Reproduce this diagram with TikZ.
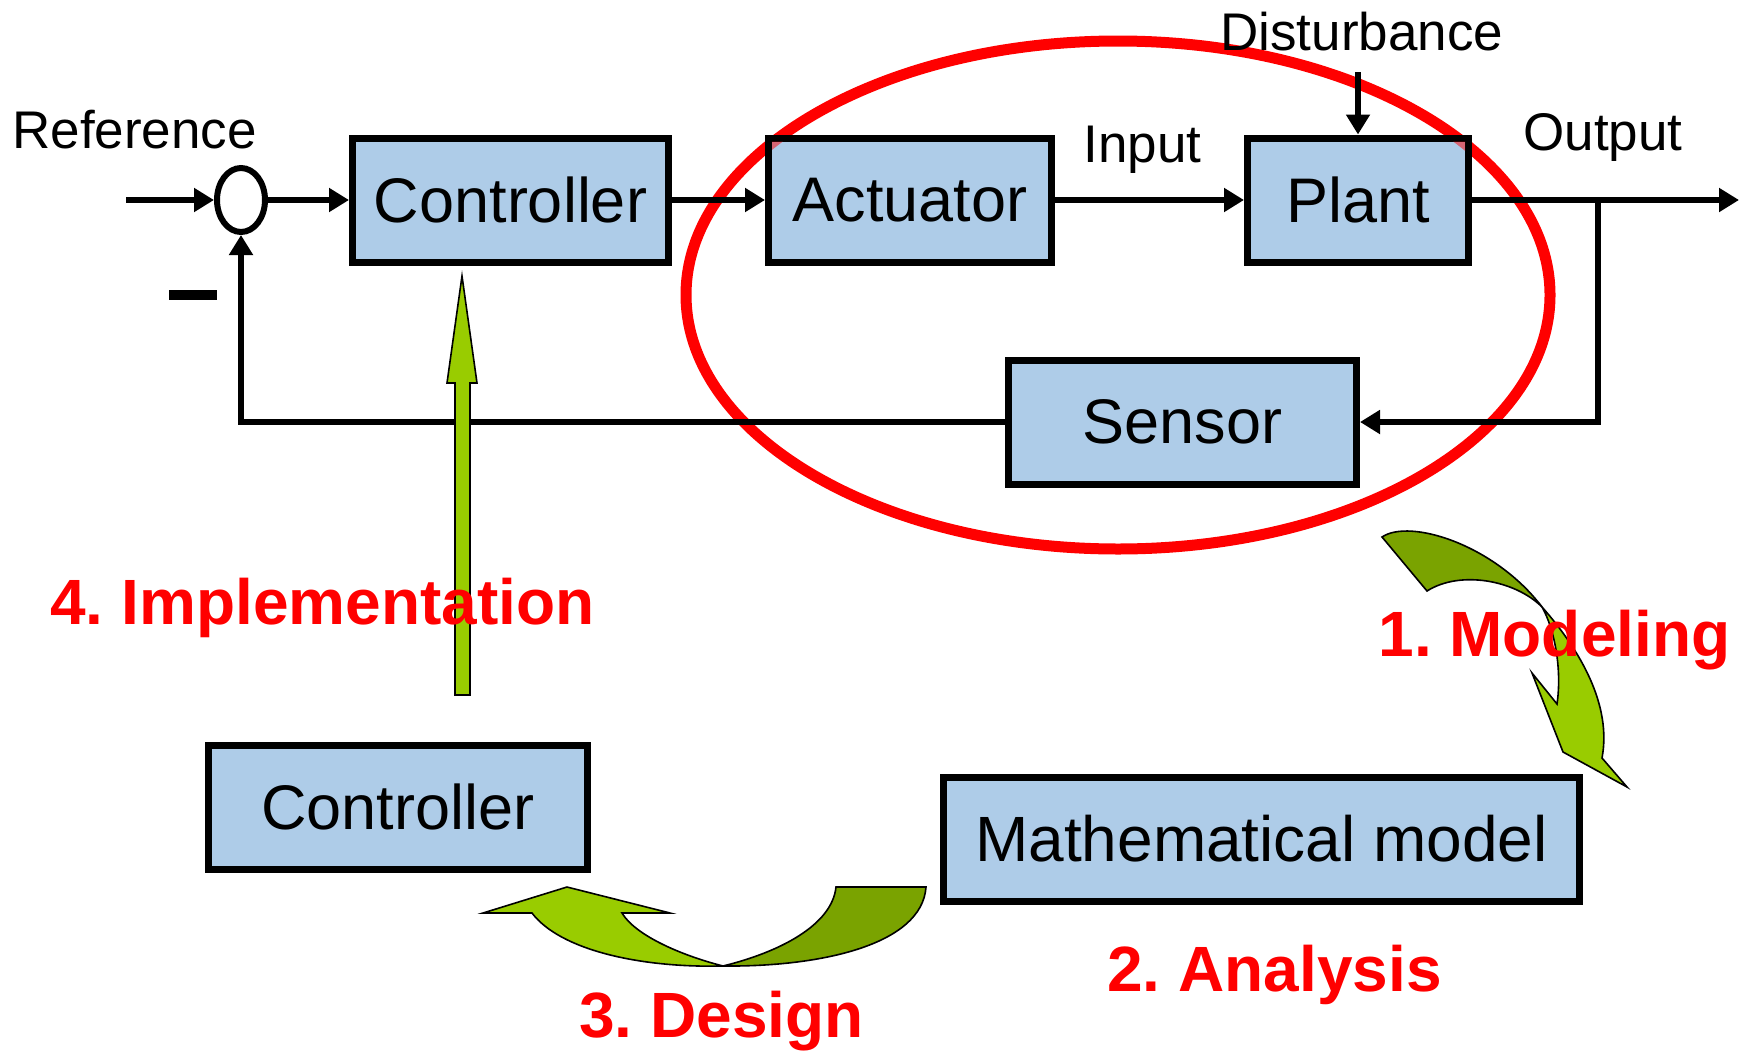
\documentclass[tikz,border=0pt]{standalone}
\usepackage{fontspec}
\setmainfont{Liberation Sans}
\usetikzlibrary{arrows.meta,calc,shapes.geometric}
\definecolor{boxblue}{RGB}{174,204,232}
\definecolor{lgreen}{RGB}{153,204,0}
\definecolor{dgreen}{RGB}{122,163,0}
\definecolor{myred}{RGB}{255,0,0}
\frenchspacing
\begin{document}
\begin{tikzpicture}[x=0.5pt,y=-0.5pt,
  blk/.style={draw=black,line width=3.5pt,fill=boxblue,minimum height=62pt,inner sep=0pt,font=\fontsize{31.5}{36}\selectfont},
  lbl/.style={font=\fontsize{26.5}{30}\selectfont,inner sep=0pt,anchor=base west},
  wire/.style={line width=3pt},
  arr/.style={wire,-{Triangle[length=10pt,width=11.5pt]}},
  stage/.style={font=\bfseries\fontsize{32}{36}\selectfont,text=myred,inner sep=0pt,anchor=base west},
  ribbon/.style={draw=black,line width=0.8pt,line join=miter}]
\useasboundingbox (0,0) rectangle (1739,1050);

% red ellipse (behind the boxes)
\draw[myred,line width=5.5pt] (1118,295) ellipse [x radius=432,y radius=254];

% blocks
\node[blk,minimum width=158pt] (ctrl) at (510.5,200) {Controller};
\node[blk,minimum width=141.5pt] (act) at (910,200) {Actuator};
\node[blk,minimum width=110.5pt] (plant) at (1358,200) {Plant};
\node[blk,minimum width=174pt] (sensor) at (1182.5,422) {Sensor};
\node[blk,minimum width=189.5pt] (ctrl2) at (398,807) {Controller};
\node[blk,minimum width=318pt,font=\fontsize{32}{36}\selectfont] (math) at (1261.5,839) {Mathematical model};

% ellipse tint inside boxes
\begin{scope}
\clip ($(act.north west)+(3.5pt,-3.5pt)$) rectangle ($(act.south east)+(-3.5pt,3.5pt)$)
      ($(plant.north west)+(3.5pt,-3.5pt)$) rectangle ($(plant.south east)+(-3.5pt,3.5pt)$);
\draw[myred,line width=5.5pt,draw opacity=0.5] (1118,295) ellipse [x radius=432,y radius=254];
\end{scope}

% summing junction
\node[ellipse,draw,line width=3pt,fill=white,minimum width=24pt,minimum height=32pt,inner sep=0pt] (sum) at (241,200) {};
\node[fill=black,minimum width=24pt,minimum height=4.6pt,inner sep=0pt] (minus) at (193,295) {};

% labels
\node[lbl] (reflbl) at (12,148) {Reference};
\node[lbl] (inlbl) at (1083,162) {Input};
\node[lbl] (outlbl) at (1523,150) {Output};
\node[lbl] (distlbl) at (1220,50) {Disturbance};

% coordinates
\coordinate (refin) at (126,200);
\coordinate (dist) at (1358,72);
\coordinate (br) at (1598,200);
\coordinate (outend) at (1739,200);

% wires
\draw[arr] (refin) -- (sum.west);
\draw[arr] (sum.east) -- (ctrl.west);
\draw[arr] (ctrl.east) -- (act.west);
\draw[arr] (act.east) -- (plant.west);
\draw[arr] (plant.east) -- (outend);
\draw[arr] (dist) -- (plant.north);
\draw[arr] (br) |- (sensor.east);
\draw[arr] (sensor.west) -| (sum.south);

% vertical implementation arrow
\filldraw[ribbon,fill=lgreen] (455,695) -- (455,383) -- (447,383) -- (462,276) -- (477,383) -- (470,383) -- (470,695) -- cycle;

% modeling curved arrow
\filldraw[ribbon,fill=dgreen] (1382,537) .. controls (1410,518) and (1495,545) .. (1542,607)
   .. controls (1515,580) and (1460,570) .. (1427,591) -- cycle;
\filldraw[ribbon,fill=lgreen] (1542,607) .. controls (1580,650) and (1612,705) .. (1602,758)
   -- (1627,787) -- (1563,752) -- (1532,673) -- (1557,704)
   .. controls (1562,670) and (1555,630) .. (1542,607) -- cycle;

% design curved arrow
\filldraw[ribbon,fill=dgreen] (836,887) -- (926,887) .. controls (922,945) and (820,967) .. (723,966)
   .. controls (780,952) and (832,925) .. (836,887) -- cycle;
\filldraw[ribbon,fill=lgreen] (723,966) .. controls (640,968) and (560,950) .. (532,913)
   -- (483,913) -- (567,887) -- (670,913) -- (622,913)
   .. controls (635,935) and (680,955) .. (723,966) -- cycle;

% stage labels
\node[stage] (s4) at (50,624) {4. Implementation};
\node[stage] (s1) at (1378,656) {1. Modeling};
\node[stage] (s2) at (1107,991) {2. Analysis};
\node[stage] (s3) at (579,1037) {3. Design};
\end{tikzpicture}
\end{document}
